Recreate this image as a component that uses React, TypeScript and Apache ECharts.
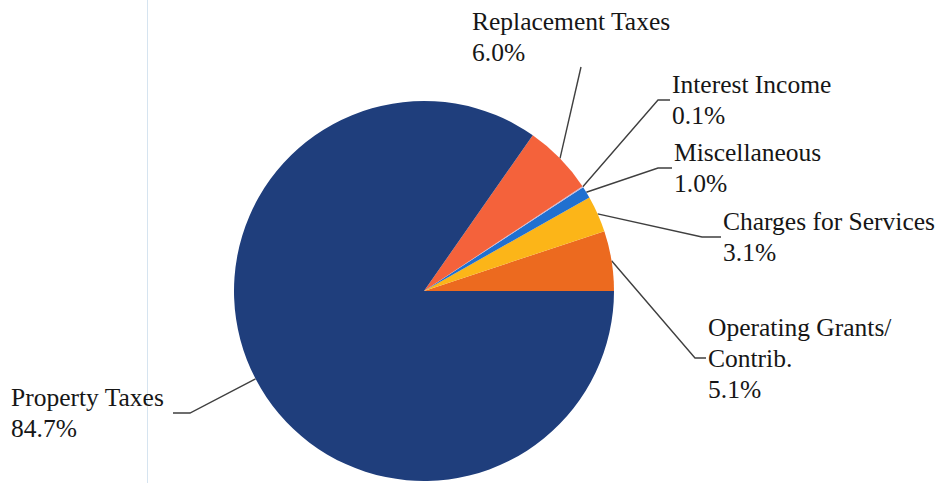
import React, { useEffect, useRef } from "react";
import * as echarts from "echarts";

// ---- data ----
const categories = [
  "Operating Grants/\nContrib.",
  "Charges for Services",
  "Miscellaneous",
  "Interest Income",
  "Replacement Taxes",
  "Property Taxes",
];
const percentages = [5.1, 3.1, 1.0, 0.1, 6.0, 84.7];
const sliceColors = ["#ec6a1f", "#fcb518", "#2070d0", "#c9b6d6", "#f4623b", "#1f3e7c"];

// ---- layout (label anchor: left x, vertical middle y; leader bend & end) ----
const CENTER: [number, number] = [424, 291];
const RADIUS = 190;
const labelPlacement = [
  { x: 708, y: 358, bend: [695, 358], end: [706, 358] },
  { x: 723, y: 237, bend: [702, 237], end: [721, 237] },
  { x: 674, y: 168, bend: [658, 168], end: [672, 168] },
  { x: 672, y: 100, bend: [658, 100], end: [670, 100] },
  { x: 472, y: 37, bend: [581, 67], end: [581, 67] },
  { x: 11, y: 413, bend: [190, 413], end: [173, 413] },
];

export default function App() {
  const ref = useRef<HTMLDivElement>(null);

  useEffect(() => {
    if (!ref.current) return;
    const chart = echarts.init(ref.current, null, { renderer: "svg" });
    const total = percentages.reduce((a, b) => a + b, 0);

    const edgePoint = (i: number): [number, number] => {
      let before = 0;
      for (let k = 0; k < i; k++) before += percentages[k];
      const mid = ((before + percentages[i] / 2) / total) * Math.PI * 2;
      return [CENTER[0] + RADIUS * Math.cos(mid), CENTER[1] - RADIUS * Math.sin(mid)];
    };

    chart.setOption({
      animation: false,
      backgroundColor: "#ffffff",
      graphic: [
        {
          type: "line",
          shape: { x1: 147.5, y1: 0, x2: 147.5, y2: 483 },
          style: { stroke: "#d6e4f0", lineWidth: 1 },
          silent: true,
          z: -1,
        },
      ],
      series: [
        {
          type: "pie",
          center: CENTER,
          radius: RADIUS,
          startAngle: 0,
          clockwise: false,
          avoidLabelOverlap: false,
          silent: true,
          itemStyle: { borderWidth: 0 },
          label: {
            show: true,
            position: "outside",
            formatter: (p: any) => `${p.name}\n${Number(p.value).toFixed(1)}%`,
            color: "#161616",
            fontFamily: "Liberation Serif, Times New Roman, serif",
            fontSize: 25.5,
            lineHeight: 31,
          },
          labelLine: {
            show: true,
            smooth: false,
            lineStyle: { color: "#3f3f3f", width: 1.4 },
          },
          labelLayout: (params: any) => {
            const i = params.dataIndex;
            const L = labelPlacement[i];
            const start =
              params.labelLinePoints && params.labelLinePoints[0]
                ? params.labelLinePoints[0]
                : edgePoint(i);
            return {
              x: L.x,
              y: L.y,
              align: "left",
              verticalAlign: "middle",
              labelLinePoints: [start, L.bend, L.end],
            };
          },
          data: categories.map((name, i) => ({
            name,
            value: percentages[i],
            itemStyle: { color: sliceColors[i] },
          })),
        },
      ],
    });

    return () => chart.dispose();
  }, []);

  return (
    <div
      ref={ref}
      style={{ position: "absolute", left: 0, top: 0, width: 949, height: 483 }}
    />
  );
}
